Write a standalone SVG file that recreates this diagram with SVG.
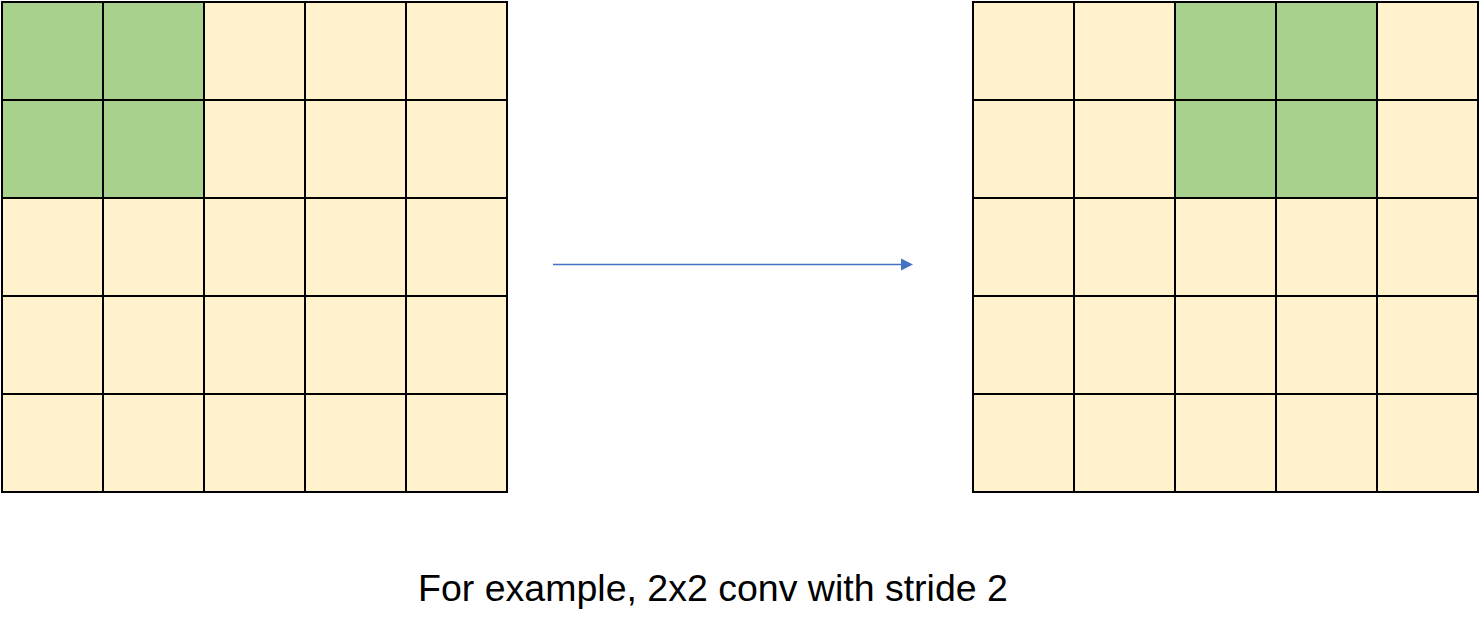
<svg xmlns="http://www.w3.org/2000/svg" width="1480" height="634" viewBox="0 0 1480 634">
<style>
.y{fill:#FFF2CC;stroke:#000;stroke-width:2}
.g{fill:#A9D18E;stroke:#000;stroke-width:2}
.t{font-family:"Liberation Sans",Arial,sans-serif;font-size:37.5px;fill:#000}
</style>
<g id="input-grid">
<rect class="g" x="2" y="2" width="101" height="98"/>
<rect class="g" x="103" y="2" width="101" height="98"/>
<rect class="y" x="204" y="2" width="101" height="98"/>
<rect class="y" x="305" y="2" width="101" height="98"/>
<rect class="y" x="406" y="2" width="101" height="98"/>
<rect class="g" x="2" y="100" width="101" height="98"/>
<rect class="g" x="103" y="100" width="101" height="98"/>
<rect class="y" x="204" y="100" width="101" height="98"/>
<rect class="y" x="305" y="100" width="101" height="98"/>
<rect class="y" x="406" y="100" width="101" height="98"/>
<rect class="y" x="2" y="198" width="101" height="98"/>
<rect class="y" x="103" y="198" width="101" height="98"/>
<rect class="y" x="204" y="198" width="101" height="98"/>
<rect class="y" x="305" y="198" width="101" height="98"/>
<rect class="y" x="406" y="198" width="101" height="98"/>
<rect class="y" x="2" y="296" width="101" height="98"/>
<rect class="y" x="103" y="296" width="101" height="98"/>
<rect class="y" x="204" y="296" width="101" height="98"/>
<rect class="y" x="305" y="296" width="101" height="98"/>
<rect class="y" x="406" y="296" width="101" height="98"/>
<rect class="y" x="2" y="394" width="101" height="98"/>
<rect class="y" x="103" y="394" width="101" height="98"/>
<rect class="y" x="204" y="394" width="101" height="98"/>
<rect class="y" x="305" y="394" width="101" height="98"/>
<rect class="y" x="406" y="394" width="101" height="98"/>
</g>
<g id="output-grid">
<rect class="y" x="973" y="2" width="101" height="98"/>
<rect class="y" x="1074" y="2" width="101" height="98"/>
<rect class="g" x="1175" y="2" width="101" height="98"/>
<rect class="g" x="1276" y="2" width="101" height="98"/>
<rect class="y" x="1377" y="2" width="101" height="98"/>
<rect class="y" x="973" y="100" width="101" height="98"/>
<rect class="y" x="1074" y="100" width="101" height="98"/>
<rect class="g" x="1175" y="100" width="101" height="98"/>
<rect class="g" x="1276" y="100" width="101" height="98"/>
<rect class="y" x="1377" y="100" width="101" height="98"/>
<rect class="y" x="973" y="198" width="101" height="98"/>
<rect class="y" x="1074" y="198" width="101" height="98"/>
<rect class="y" x="1175" y="198" width="101" height="98"/>
<rect class="y" x="1276" y="198" width="101" height="98"/>
<rect class="y" x="1377" y="198" width="101" height="98"/>
<rect class="y" x="973" y="296" width="101" height="98"/>
<rect class="y" x="1074" y="296" width="101" height="98"/>
<rect class="y" x="1175" y="296" width="101" height="98"/>
<rect class="y" x="1276" y="296" width="101" height="98"/>
<rect class="y" x="1377" y="296" width="101" height="98"/>
<rect class="y" x="973" y="394" width="101" height="98"/>
<rect class="y" x="1074" y="394" width="101" height="98"/>
<rect class="y" x="1175" y="394" width="101" height="98"/>
<rect class="y" x="1276" y="394" width="101" height="98"/>
<rect class="y" x="1377" y="394" width="101" height="98"/>
</g>
<g id="connectors">
<line x1="553" y1="264.5" x2="903" y2="264.5" stroke="#4472C4" stroke-width="1.5"/>
<path d="M901,258.5 L913,264.5 L901,270.5 z" fill="#4472C4"/>
</g>
<g id="caption">
<text class="t" x="713" y="601" text-anchor="middle">For example, 2x2 conv with stride 2</text>
</g>
</svg>
